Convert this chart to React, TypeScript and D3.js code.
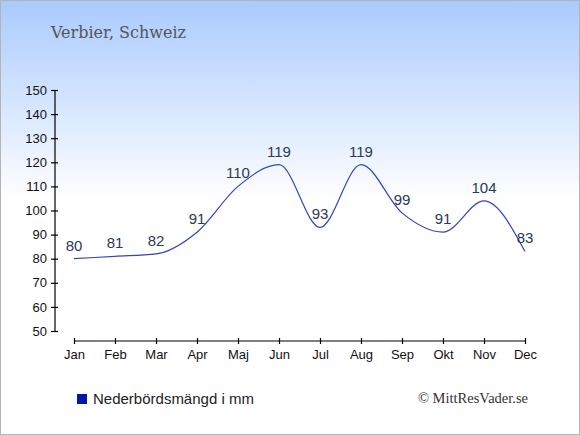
import React, { useRef, useEffect } from 'react';
import * as d3 from 'd3';

const months = ['Jan', 'Feb', 'Mar', 'Apr', 'Maj', 'Jun', 'Jul', 'Aug', 'Sep', 'Okt', 'Nov', 'Dec'];
const precipitation = [80, 81, 82, 91, 110, 119, 93, 119, 99, 91, 104, 83];
const yTicks = [50, 60, 70, 80, 90, 100, 110, 120, 130, 140, 150];

const W = 580;
const H = 435;

const App: React.FC = () => {
  const svgRef = useRef<SVGSVGElement>(null);

  useEffect(() => {
    if (!svgRef.current) return;
    const svg = d3.select(svgRef.current);
    svg.selectAll('*').remove();

    // Bakgrund med gradient
    const defs = svg.append('defs');
    const grad = defs.append('linearGradient')
      .attr('id', 'bg')
      .attr('x1', 0).attr('y1', 0).attr('x2', 0).attr('y2', 1);
    grad.append('stop').attr('offset', '0%').attr('stop-color', '#a9caff');
    grad.append('stop').attr('offset', '46%').attr('stop-color', '#ffffff');
    grad.append('stop').attr('offset', '100%').attr('stop-color', '#ffffff');

    svg.append('rect')
      .attr('x', 0.5).attr('y', 0.5)
      .attr('width', W - 1).attr('height', H - 1)
      .attr('fill', 'url(#bg)')
      .attr('stroke', '#b4b4b4');

    // Skalor
    const x = d3.scalePoint<string>()
      .domain(months)
      .range([74, 525]);

    const y = d3.scaleLinear()
      .domain([50, 150])
      .range([331, 90]);

    // Y-axel
    const yAxis = svg.append('g')
      .attr('transform', 'translate(55,0)')
      .call(d3.axisLeft(y).tickValues(yTicks).tickSize(4).tickPadding(4).tickFormat(d3.format('d')));
    yAxis.select('.domain').attr('stroke', '#000').attr('d', `M0,${y(50)}V${y(150)}`);
    yAxis.selectAll('.tick line').attr('x2', -4).attr('x1', 3).attr('stroke', '#000');
    yAxis.selectAll('.tick text')
      .attr('font-family', '"Liberation Sans", Arial, sans-serif')
      .attr('font-size', 13)
      .attr('fill', '#111');

    // X-axel
    const xAxis = svg.append('g')
      .attr('transform', 'translate(0,341)')
      .call(d3.axisBottom(x).tickSize(3).tickPadding(6));
    xAxis.select('.domain').attr('stroke', '#000').attr('d', `M${x('Jan')},0H${x('Dec')}`);
    xAxis.selectAll('.tick line').attr('y1', -3).attr('y2', 3).attr('stroke', '#000');
    xAxis.selectAll('.tick text')
      .attr('font-family', '"Liberation Sans", Arial, sans-serif')
      .attr('font-size', 13)
      .attr('fill', '#111');
    svg.selectAll('.domain, .tick line').attr('stroke-width', 1.2);

    // Linje
    const line = d3.line<number>()
      .x((_, i) => x(months[i]) as number)
      .y(d => y(d))
      .curve(d3.curveMonotoneX);

    svg.append('path')
      .datum(precipitation)
      .attr('fill', 'none')
      .attr('stroke', '#3344bf')
      .attr('stroke-width', 1.2)
      .attr('d', line);

    // Värden
    svg.selectAll('.val')
      .data(precipitation)
      .enter()
      .append('text')
      .attr('class', 'val')
      .attr('x', (_, i) => x(months[i]) as number)
      .attr('y', d => y(d) - 8)
      .attr('text-anchor', 'middle')
      .attr('font-family', '"Liberation Sans", Arial, sans-serif')
      .attr('font-size', 15)
      .attr('fill', '#2b3a55')
      .text(d => d);

    // Titel
    svg.append('text')
      .attr('x', 51)
      .attr('y', 38)
      .attr('font-family', '"DejaVu Serif", Georgia, serif')
      .attr('font-size', 16)
      .attr('fill', '#555')
      .text('Verbier, Schweiz');

    // Legend
    svg.append('rect')
      .attr('x', 77).attr('y', 394)
      .attr('width', 10).attr('height', 10)
      .attr('fill', '#0018a8');
    svg.append('text')
      .attr('x', 93).attr('y', 404)
      .attr('font-family', '"Liberation Sans", Arial, sans-serif')
      .attr('font-size', 15)
      .attr('fill', '#222')
      .text('Nederbördsmängd i mm');

    svg.append('text')
      .attr('x', 528).attr('y', 403)
      .attr('text-anchor', 'end')
      .attr('font-family', '"Liberation Serif", "Times New Roman", serif')
      .attr('font-size', 14.5)
      .attr('fill', '#333')
      .text('© MittResVader.se');
  }, []);

  return (
    <div style={{ position: 'fixed', left: 0, top: 0 }}>
      <svg ref={svgRef} width={W} height={H} style={{ display: 'block' }} />
    </div>
  );
};

export default App;
